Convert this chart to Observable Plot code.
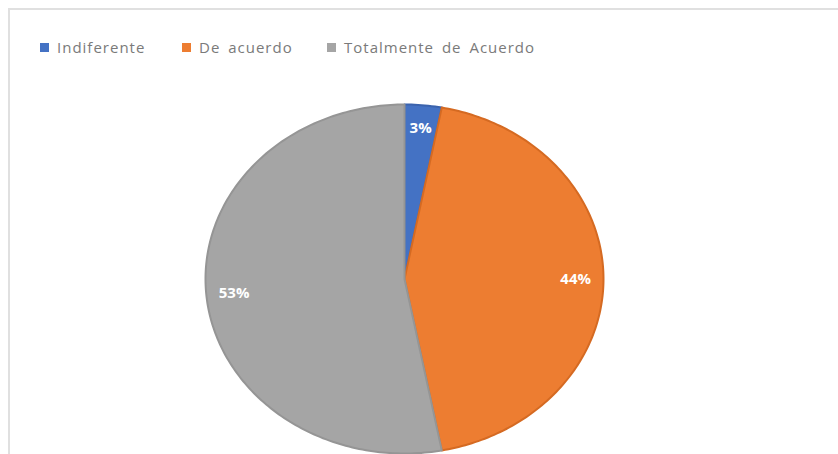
<!DOCTYPE html>
<html>
<head>
<meta charset="utf-8">
<script src="https://cdn.jsdelivr.net/npm/d3@7"></script>
<script src="https://cdn.jsdelivr.net/npm/@observablehq/plot@0.6"></script>
<style>
  html, body { margin: 0; padding: 0; background: #fff; }
  #wrap { position: relative; width: 838px; height: 454px; overflow: hidden; font-family: "Open Sans", sans-serif; }
  #frame { position: absolute; left: 8px; top: 8px; width: 1000px; height: 1000px;
           border-top: 2px solid #e0e0e0; border-left: 2px solid #e0e0e0; }
  #chart { position: absolute; left: 0; top: 0; }
  .item { position: absolute; top: 37px; display: flex; align-items: center; white-space: nowrap;
          font-size: 15px; letter-spacing: 1px; word-spacing: 3px; color: #7a7a7a; }
  .sw { width: 9px; height: 9px; margin-right: 8px; display: inline-block; }
</style>
</head>
<body>
<div id="wrap">
  <div id="frame"></div>
  <div id="chart"></div>
</div>
<script>
// ---- data ----
const categories = ["Indiferente", "De acuerdo", "Totalmente de Acuerdo"];
const values = [3, 44, 53];
const labels = ["3%", "44%", "53%"];
const colors = ["#4472C4", "#ED7D31", "#A5A5A5"];
const edgeColors = ["#3b63ad", "#d56a22", "#959595"];

// ---- build slices from the data ----
const arcs = d3.pie().sort(null).value(d => d)(values);
const pts = [];
arcs.forEach((a, i) => {
  const steps = Math.max(4, Math.ceil((a.endAngle - a.startAngle) / (Math.PI / 180)));
  pts.push({i, x: 0, y: 0});
  for (let k = 0; k <= steps; k++) {
    const t = a.startAngle + (a.endAngle - a.startAngle) * k / steps;
    pts.push({i, x: Math.sin(t), y: Math.cos(t)});
  }
  pts.push({i, x: 0, y: 0});
});
const labelPts = arcs.map((a, i) => {
  const m = (a.startAngle + a.endAngle) / 2;
  return {i, x: 0.86 * Math.sin(m), y: 0.87 * Math.cos(m), label: labels[i]};
});

const plot = Plot.plot({
  width: 838,
  height: 454,
  marginLeft: 205,
  marginRight: 235,
  marginTop: 104,
  marginBottom: 1,
  x: {domain: [-1, 1], axis: null},
  y: {domain: [-1, 1], axis: null},
  color: {type: "identity"},
  style: {background: "transparent", overflow: "visible"},
  marks: [
    Plot.line(pts, {
      x: "x", y: "y", z: "i",
      fill: d => colors[d.i],
      stroke: d => edgeColors[d.i],
      strokeWidth: 2,
      strokeLinejoin: "round",
      curve: "linear"
    }),
    Plot.text(labelPts, {
      x: "x", y: "y", text: "label",
      fill: "white", fontWeight: "bold", fontSize: 15,
      fontFamily: "Open Sans, sans-serif"
    })
  ]
});
document.getElementById("chart").appendChild(plot);

// ---- legend ----
const legendLeft = [40, 182, 327];
const wrap = document.getElementById("wrap");
categories.forEach((c, i) => {
  const it = document.createElement("div");
  it.className = "item";
  it.style.left = legendLeft[i] + "px";
  const sw = document.createElement("span");
  sw.className = "sw";
  sw.style.background = colors[i];
  it.appendChild(sw);
  it.appendChild(document.createTextNode(c));
  wrap.appendChild(it);
});
</script>
</body>
</html>
